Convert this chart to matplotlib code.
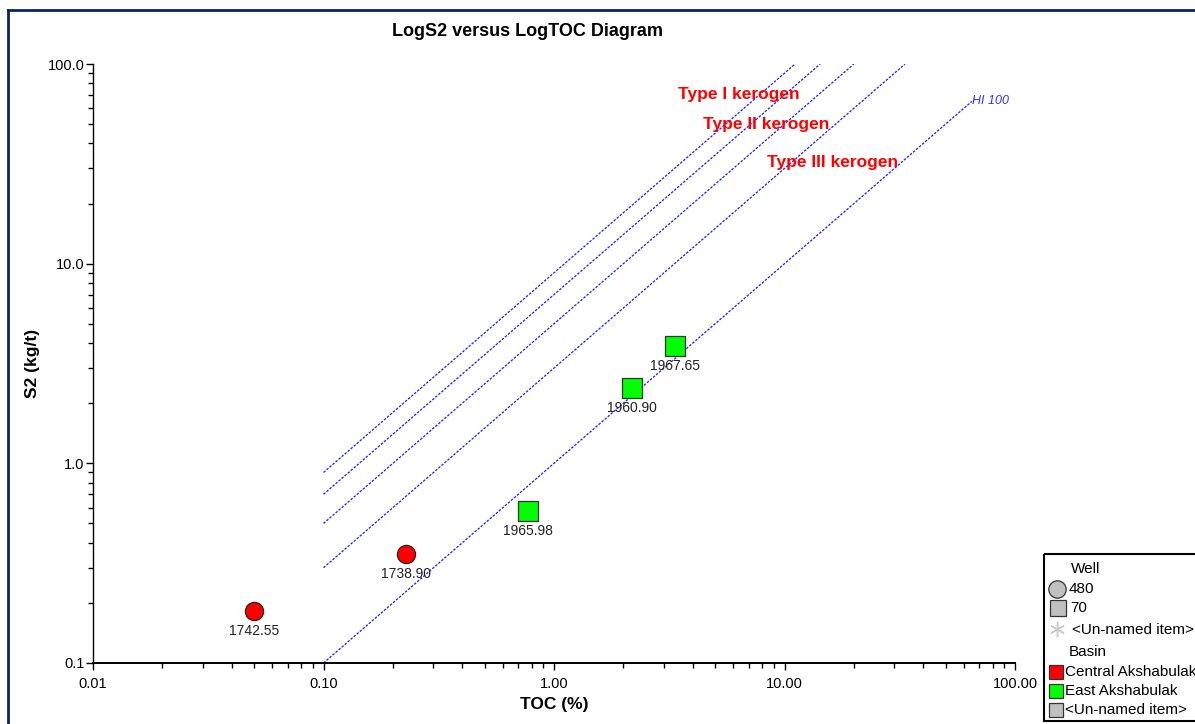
import matplotlib
matplotlib.use("Agg")
import matplotlib.pyplot as plt
from matplotlib.lines import Line2D
from matplotlib.patches import Rectangle
from matplotlib.ticker import FixedLocator, FixedFormatter, LogLocator, NullFormatter

plt.rcParams['font.family'] = ['Liberation Sans', 'DejaVu Sans']

# samples: Central Akshabulak (well 480, circles)
central_toc = [0.05, 0.228]
central_s2 = [0.182, 0.352]
central_depth = ["1742.55", "1738.90"]

# samples: East Akshabulak (well 70, squares)
east_toc = [0.77, 2.18, 3.35]
east_s2 = [0.577, 2.38, 3.87]
east_depth = ["1965.98", "1960.90", "1967.65"]

# HI reference lines: S2 = HI/100 * TOC
hi_values = [900, 700, 500, 300, 100]
hi_toc_start = [0.1, 0.1, 0.1, 0.1, 0.1]
hi_toc_end = [11.1, 14.3, 20.0, 33.3, 65.0]

xticks = [0.01, 0.1, 1, 10, 100]
xtick_labels = ["0.01", "0.10", "1.00", "10.00", "100.00"]
yticks = [0.1, 1, 10, 100]
ytick_labels = ["0.1", "1.0", "10.0", "100.0"]

fig = plt.figure(figsize=(11.95, 7.24), dpi=100)
ax = fig.add_axes([93 / 1195, 1 - 663 / 724, 922 / 1195, 599 / 724])
ax.set_xscale('log')
ax.set_yscale('log')
ax.set_xlim(0.01, 100)
ax.set_ylim(0.1, 100)

for hi, x0, x1 in zip(hi_values, hi_toc_start, hi_toc_end):
    ax.plot([x0, x1], [x0 * hi / 100, x1 * hi / 100], color='#1a1aff',
            lw=0.9, ls=(0, (2, 1.2)), zorder=2)
ax.text(hi_toc_end[-1], hi_toc_end[-1] * hi_values[-1] / 100, "HI 100",
        color='#3030ff', fontsize=9, style='italic', ha='left', va='center')

ax.text(739 / 1195, 1 - 95 / 724, "Type I kerogen", transform=fig.transFigure,
        color='red', fontsize=12.5, fontweight='bold', ha='center', va='center')
ax.text(766 / 1195, 1 - 124 / 724, "Type II kerogen", transform=fig.transFigure,
        color='red', fontsize=12.5, fontweight='bold', ha='center', va='center')
ax.text(833 / 1195, 1 - 162 / 724, "Type III kerogen", transform=fig.transFigure,
        color='red', fontsize=12.5, fontweight='bold', ha='center', va='center')

ax.scatter(central_toc, central_s2, s=172, marker='o', c='#ff0000',
           edgecolors='#222222', linewidths=0.9, zorder=4)
ax.scatter(east_toc, east_s2, s=190, marker='s', c='#00ff00',
           edgecolors='#333333', linewidths=0.9, zorder=4)
for x, y, t in zip(central_toc + east_toc, central_s2 + east_s2,
                   central_depth + east_depth):
    ax.annotate(t, (x, y), xytext=(0, -14.5), textcoords='offset points',
                ha='center', va='center', fontsize=10, color='#222222', zorder=5)

ax.xaxis.set_major_locator(FixedLocator(xticks))
ax.xaxis.set_major_formatter(FixedFormatter(xtick_labels))
ax.yaxis.set_major_locator(FixedLocator(yticks))
ax.yaxis.set_major_formatter(FixedFormatter(ytick_labels))
ax.xaxis.set_minor_locator(LogLocator(base=10, subs=range(2, 10)))
ax.yaxis.set_minor_locator(LogLocator(base=10, subs=range(2, 10)))
ax.xaxis.set_minor_formatter(NullFormatter())
ax.yaxis.set_minor_formatter(NullFormatter())
ax.tick_params(which='major', length=5, width=1, labelsize=10.5, color='black')
ax.tick_params(which='minor', length=3.5, width=1, color='black')
ax.tick_params(axis='x', pad=5)
ax.tick_params(axis='y', pad=1)

for side in ['top', 'right']:
    ax.spines[side].set_visible(False)
ax.spines['left'].set_linewidth(1)
ax.spines['bottom'].set_linewidth(1.4)

ax.set_xlabel("TOC (%)", fontsize=12.5, fontweight='bold')
ax.set_ylabel("S2 (kg/t)", fontsize=12.5, fontweight='bold')
ax.xaxis.set_label_coords(0.5, (663 - 697) / 599)
ax.yaxis.set_label_coords((40 - 93) / 922, 0.5)
fig.text(527 / 1195, 1 - 31 / 724, "LogS2 versus LogTOC Diagram",
         fontsize=13, fontweight='bold', ha='center', va='center')

# outer frame
fig.add_artist(Line2D([8 / 1195, 8 / 1195], [-0.01, 1 - 10 / 724],
                      color='#0b2466', lw=2, transform=fig.transFigure))
fig.add_artist(Line2D([8 / 1195, 1.01], [1 - 10 / 724, 1 - 10 / 724],
                      color='#0b2466', lw=2, transform=fig.transFigure))

# legend panel drawn in pixel coordinates
lg = fig.add_axes([0, 0, 1, 1], facecolor='none')
lg.set_xlim(0, 1195)
lg.set_ylim(724, 0)
lg.axis('off')
lg.add_patch(Rectangle((1044, 554), 170, 167, fill=False, ec='black', lw=1.5))
fs = 11
lg.text(1071, 569, "Well", fontsize=fs, va='center')
lg.plot(1057, 589, marker='o', ms=12.5, mfc='#c0c0c0', mec='#333333', mew=0.9)
lg.text(1069, 589, "480", fontsize=fs, va='center')
lg.plot(1058, 608, marker='s', ms=12, mfc='#c0c0c0', mec='#333333', mew=0.9)
lg.text(1070, 608, "70", fontsize=fs, va='center')
lg.plot(1057, 629, marker=(6, 2, 0), ms=11, mec='#c8c8c8', mew=1)
lg.text(1072, 630, "<Un-named item>", fontsize=fs, va='center')
lg.text(1069, 652, "Basin", fontsize=fs, va='center')
legend_colors = ['#ff0000', '#00ff00', '#c0c0c0']
legend_names = ["Central Akshabulak", "East Akshabulak", "<Un-named item>"]
for i, (c, n) in enumerate(zip(legend_colors, legend_names)):
    yy = 672 + i * 19
    lg.add_patch(Rectangle((1049, yy - 7), 14, 14, fc=c, ec='#333333', lw=0.9))
    lg.text(1065, yy, n, fontsize=fs, va='center')

fig.savefig("out.png", dpi=100)
